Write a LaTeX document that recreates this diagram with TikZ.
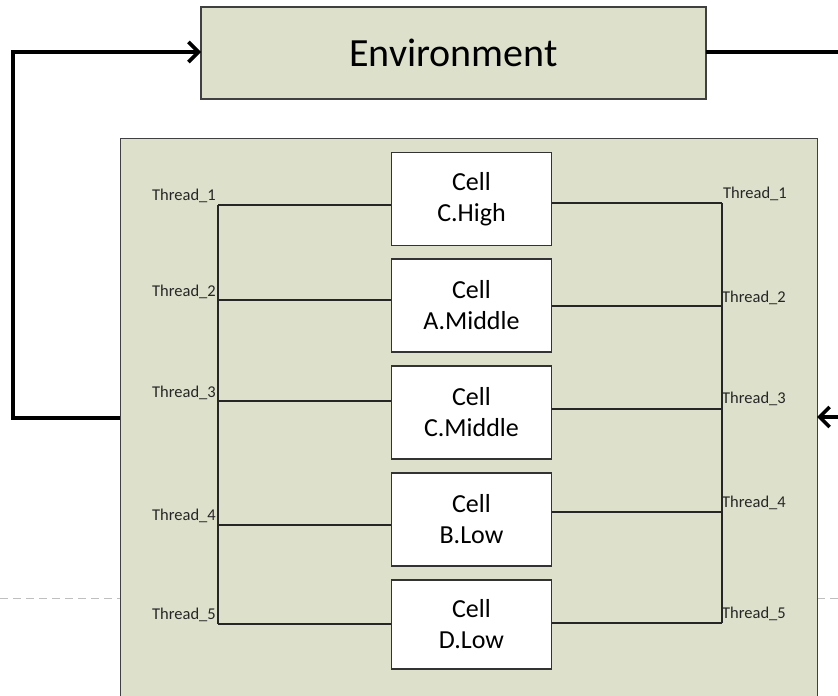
\documentclass[tikz,border=0pt]{standalone}
\usepackage{fontspec}
\setmainfont{Carlito}
\usetikzlibrary{arrows.meta}
\definecolor{panel}{HTML}{DDE0CB}
\begin{document}
\begin{tikzpicture}[x=1pt,y=-1pt,
  panelbox/.style={draw=black!75, fill=panel, line width=1.3pt, inner sep=0pt},
  cellbox/.style={draw=black!80, fill=white, line width=1.8pt, minimum width=160pt,
    minimum height=93pt, inner sep=0pt, align=center,
    font=\fontsize{26}{31}\selectfont},
  wire/.style={line width=1.8pt, draw=black!85},
  loop/.style={line width=3.6pt, draw=black},
  tip/.style={-{Straight Barb[length=10pt,width=20pt]}},
  tlabel/.style={font=\fontsize{16.5}{18}\selectfont, text=black!85, inner sep=0pt},
  guide/.style={draw=black!25, line width=1pt, dash pattern=on 8pt off 5pt}]
\useasboundingbox (0,0) rectangle (838,696);
\clip (0,0) rectangle (838,696);

% faint horizontal guide
\draw[guide] (0,598) -- (120,598);
\draw[guide] (817,598) -- (838,598);

% environment and system panels
\node[panelbox, minimum width=505pt, minimum height=92pt,
      font=\fontsize{40}{46}\selectfont] (env) at (453.5,53) {Environment};
\node[panelbox, anchor=north west, minimum width=697pt, minimum height=580pt] (sys) at (120,138) {};

% cells
\node[cellbox] (c1) at (471.5,199)   {Cell\\C.High};
\node[cellbox] (c2) at (471.5,305.5) {Cell\\A.Middle};
\node[cellbox] (c3) at (471.5,412.5) {Cell\\C.Middle};
\node[cellbox] (c4) at (471.5,519.5) {Cell\\B.Low};
\node[cellbox, minimum height=89pt] (c5) at (471.5,624.5) {Cell\\D.Low};

% bus corners, left and right
\coordinate (L1) at (218,205);
\coordinate (L2) at (218,300);
\coordinate (L3) at (218,401);
\coordinate (L4) at (218,525);
\coordinate (L5) at (218,624);
\coordinate (R1) at (722,203);
\coordinate (R2) at (722,306);
\coordinate (R3) at (722,409);
\coordinate (R4) at (722,512);
\coordinate (R5) at (722,623);

% thread buses
\draw[wire] (L1) -- (L5);
\draw[wire] (R1) -- (R5);
\foreach \i in {1,...,5} {
  \draw[wire] (L\i) -- (L\i -| c\i.west);
  \draw[wire] (R\i) -- (R\i -| c\i.east);
}

% thread labels
\node[tlabel, anchor=base east] (tl1) at (216,200) {Thread\_1};
\node[tlabel, anchor=base east] (tl2) at (216,296) {Thread\_2};
\node[tlabel, anchor=base east] (tl3) at (216,397) {Thread\_3};
\node[tlabel, anchor=base east] (tl4) at (216,520) {Thread\_4};
\node[tlabel, anchor=base east] (tl5) at (216,619) {Thread\_5};
\node[tlabel, anchor=base west] (tr1) at (723,198) {Thread\_1};
\node[tlabel, anchor=base west] (tr2) at (722,302) {Thread\_2};
\node[tlabel, anchor=base west] (tr3) at (722,403) {Thread\_3};
\node[tlabel, anchor=base west] (tr4) at (722,507) {Thread\_4};
\node[tlabel, anchor=base west] (tr5) at (722,618) {Thread\_5};

% feedback loop
\coordinate (outL) at (120,418);
\coordinate (cornerLb) at (13,418);
\coordinate (cornerLt) at (13,52);
\coordinate (envIn) at (201,52);
\coordinate (envOut) at (706,52);
\coordinate (edgeTop) at (840,52);
\coordinate (edgeMid) at (840,417);
\coordinate (sysIn) at (817,417);
\draw[loop, tip, line join=miter] (outL) -- (cornerLb) -- (cornerLt) -- (envIn);
\draw[loop] (envOut) -- (edgeTop);
\draw[loop, tip] (edgeMid) -- (sysIn);
\end{tikzpicture}
\end{document}
